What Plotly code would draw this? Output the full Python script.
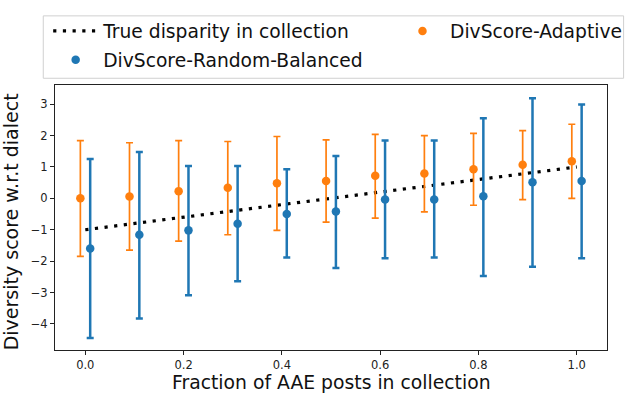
import plotly.graph_objects as go

# ---- data ----
fractions = [0.0, 0.1, 0.2, 0.3, 0.4, 0.5, 0.6, 0.7, 0.8, 0.9, 1.0]
true_disparity = [-1.0, -0.8, -0.6, -0.4, -0.2, 0.0, 0.2, 0.4, 0.6, 0.8, 1.0]

adaptive_mean = [0.00, 0.06, 0.23, 0.34, 0.48, 0.55, 0.72, 0.79, 0.93, 1.07, 1.18]
adaptive_upper = [1.84, 1.77, 1.84, 1.81, 1.97, 1.86, 2.04, 2.00, 2.07, 2.16, 2.36]
adaptive_lower = [-1.85, -1.65, -1.36, -1.16, -1.02, -0.76, -0.63, -0.43, -0.22, -0.04, 0.00]

random_mean = [-1.60, -1.16, -1.02, -0.81, -0.50, -0.42, -0.04, -0.04, 0.07, 0.51, 0.55]
random_upper = [1.25, 1.48, 1.03, 1.03, 0.93, 1.35, 1.84, 1.84, 2.55, 3.19, 2.99]
random_lower = [-4.45, -3.83, -3.09, -2.64, -1.88, -2.22, -1.91, -1.88, -2.47, -2.18, -1.91]

x_ticks = [0.0, 0.2, 0.4, 0.6, 0.8, 1.0]
y_ticks = [-4, -3, -2, -1, 0, 1, 2, 3]

x_title = "Fraction of AAE posts in collection"
y_title = "Diversity score w.r.t dialect"

offset = 0.01
x_adapt = [f - offset for f in fractions]
x_rand = [f + offset for f in fractions]

BLUE = "#1f77b4"
ORANGE = "#ff7f0e"
FONT = "DejaVu Sans"

W, H = 640, 396
ML, MR, MT, MB = 55, 20, 74, 46
PW, PH = W - ML - MR, H - MT - MB


def px(x):
    return (x - ML) / PW


def py(y):
    return (H - MB - y) / PH


fig = go.Figure()

fig.add_trace(go.Scatter(
    x=fractions, y=true_disparity, mode="lines",
    line=dict(color="black", width=3.2, dash="3.2px,6.5px"),
    name="True disparity in collection", legend="legend",
))

fig.add_trace(go.Scatter(
    x=x_rand, y=random_mean, mode="markers",
    marker=dict(color=BLUE, size=8.5),
    error_y=dict(type="data", symmetric=False,
                 array=[u - m for u, m in zip(random_upper, random_mean)],
                 arrayminus=[m - l for m, l in zip(random_mean, random_lower)],
                 color=BLUE, thickness=2.5, width=3.5),
    name="DivScore-Random-Balanced", legend="legend3",
))

fig.add_trace(go.Scatter(
    x=x_adapt, y=adaptive_mean, mode="markers",
    marker=dict(color=ORANGE, size=8.5),
    error_y=dict(type="data", symmetric=False,
                 array=[u - m for u, m in zip(adaptive_upper, adaptive_mean)],
                 arrayminus=[m - l for m, l in zip(adaptive_mean, adaptive_lower)],
                 color=ORANGE, thickness=1.7, width=3.5),
    name="DivScore-Adaptive", legend="legend2",
))

leg_common = dict(bgcolor="rgba(0,0,0,0)", borderwidth=0, xanchor="left",
                  yanchor="middle", font=dict(family=FONT, size=18.7, color="#111"),
                  itemwidth=45)

# legend frame
x0, x1 = px(43), px(637)
y0, y1 = py(67), py(2)
fig.add_shape(type="rect", xref="paper", yref="paper", x0=x0, x1=x1, y0=y0, y1=y1,
              line=dict(color="#d0d0d0", width=1), fillcolor="rgba(255,255,255,0.8)",
              layer="below")

fig.add_annotation(text=x_title, xref="paper", yref="paper",
                   x=px(337.5), y=py(396), xanchor="center", yanchor="bottom",
                   showarrow=False, borderpad=0,
                   font=dict(family=FONT, size=18.8, color="#111"))
fig.add_annotation(text=y_title, xref="paper", yref="paper",
                   x=px(10), y=py(217), xanchor="center", yanchor="middle",
                   textangle=-90, borderpad=0,
                   showarrow=False, font=dict(family=FONT, size=19, color="#111"))

fig.update_layout(
    width=W, height=H,
    margin=dict(l=ML, r=MR, t=MT, b=MB),
    paper_bgcolor="white", plot_bgcolor="white",
    showlegend=True,
    legend=dict(x=px(48), y=py(18), **leg_common),
    legend3=dict(x=px(48), y=py(48), **leg_common),
    legend2=dict(x=px(403), y=py(18), **leg_common),
    font=dict(family=FONT, color="#111"),
)

fig.update_xaxes(
    range=[-0.0616, 1.0616], tickvals=x_ticks, tickformat=".1f",
    showgrid=False, zeroline=False,
    showline=True, linecolor="#222", linewidth=1.2, mirror=True,
    ticks="outside", ticklen=4, tickwidth=1.2, tickcolor="#222",
    tickfont=dict(family=FONT, size=11.5, color="#222"),
)
fig.update_yaxes(
    range=[-4.83, 3.61], tickvals=y_ticks,
    showgrid=False, zeroline=False,
    showline=True, linecolor="#222", linewidth=1.2, mirror=True,
    ticks="outside", ticklen=4, tickwidth=1.2, tickcolor="#222",
    tickfont=dict(family=FONT, size=11.5, color="#222"),
)

fig.write_html("out.html",
               config={"displayModeBar": False},
               post_script="document.body.style.margin='0';document.body.style.overflow='hidden';")
